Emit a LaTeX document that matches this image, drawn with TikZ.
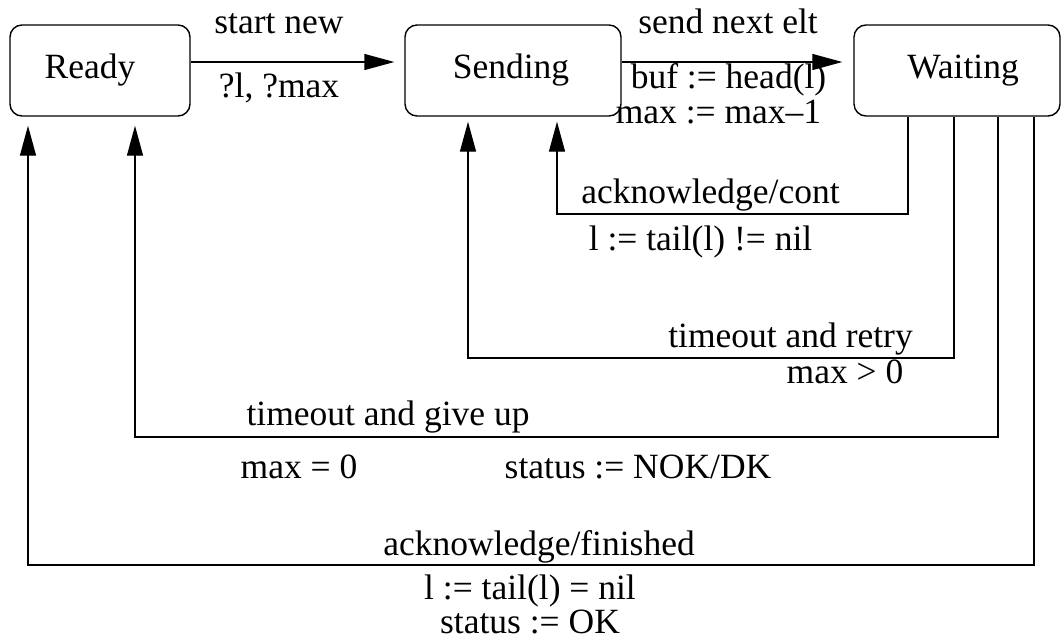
\documentclass[tikz,border=0pt]{standalone}
\usepackage{fontspec}
\setmainfont{Liberation Serif}
\usetikzlibrary{arrows.meta}
\begin{document}
\begin{tikzpicture}[x=1pt,y=-1pt,
  every node/.style={font=\fontsize{35.5}{38}\selectfont},
  state/.style={draw, line width=1.4pt, rounded corners=12pt,
    minimum height=91pt, inner sep=0pt},
  arr/.style={line width=1.4pt, -{Triangle[length=30pt,width=16pt]}},
  lbl/.style={anchor=base, inner sep=0pt}]
\useasboundingbox (0,0) rectangle (1062,640);

% states (the \hspace nudges the name off the box centre)
\node[state, minimum width=180pt] (ready)   at (100,70.5) {\hspace*{-20pt}Ready};
\node[state, minimum width=216pt] (sending) at (513,70.5) {\hspace*{-4pt}Sending};
\node[state, minimum width=206pt] (waiting) at (957,70.5) {Waiting\hspace*{-12pt}};

% attachment points along the box bottoms
\coordinate (r1) at ([xshift=-72pt]ready.south);
\coordinate (r2) at ([xshift=35pt]ready.south);
\coordinate (s1) at ([xshift=-45pt]sending.south);
\coordinate (s2) at ([xshift=44pt]sending.south);
\coordinate (w1) at ([xshift=-49pt]waiting.south);
\coordinate (w2) at ([xshift=-3pt]waiting.south);
\coordinate (w3) at ([xshift=41pt]waiting.south);
\coordinate (w4) at ([xshift=77pt]waiting.south);

% levels of the return paths
\coordinate (lvA) at (0,214);
\coordinate (lvB) at (0,358);
\coordinate (lvC) at (0,437);
\coordinate (lvD) at (0,565);

% forward transitions
\draw[arr, shorten >=10pt] ([yshift=8.5pt]ready.east) -- ([yshift=8.5pt]sending.west);
\draw[arr, shorten >=11pt] ([yshift=8.5pt]sending.east) -- ([yshift=8.5pt]waiting.west);

% return transitions
\draw[arr, shorten >=5pt] (w1) -- (w1 |- lvA) -| (s2);
\draw[arr, shorten >=5pt] (w2) -- (w2 |- lvB) -| (s1);
\draw[arr, shorten >=9pt] (w3) -- (w3 |- lvC) -| (r2);
\draw[arr, shorten >=9pt] (w4) -- (w4 |- lvD) -| (r1);

% transition labels
\node[lbl] (l1) at (279,33) {start new};
\node[lbl] (l2) at (279,97) {?l, ?max};
\node[lbl] (l3) at (728,33) {send next elt};
\node[lbl] (l4) at (728.5,88) {buf := head(l)};
\node[lbl] (l5) at (718.5,123) {max := max\textendash 1};
\node[lbl] (l6) at (710.5,203) {acknowledge/cont};
\node[lbl] (l7) at (700.5,250) {l := tail(l) != nil};
\node[lbl] (l8) at (790.5,347) {timeout and retry};
\node[lbl] (l9) at (845,383) {max > 0};
\node[lbl] (l10) at (388,425) {timeout and give up};
\node[lbl] (l11) at (299,478) {max = 0};
\node[lbl] (l12) at (638,478) {status := NOK/DK};
\node[lbl] (l13) at (539,555) {acknowledge/finished};
\node[lbl] (l14) at (530,599) {l := tail(l) = nil};
\node[lbl] (l15) at (530,633) {status := OK};
\end{tikzpicture}
\end{document}
